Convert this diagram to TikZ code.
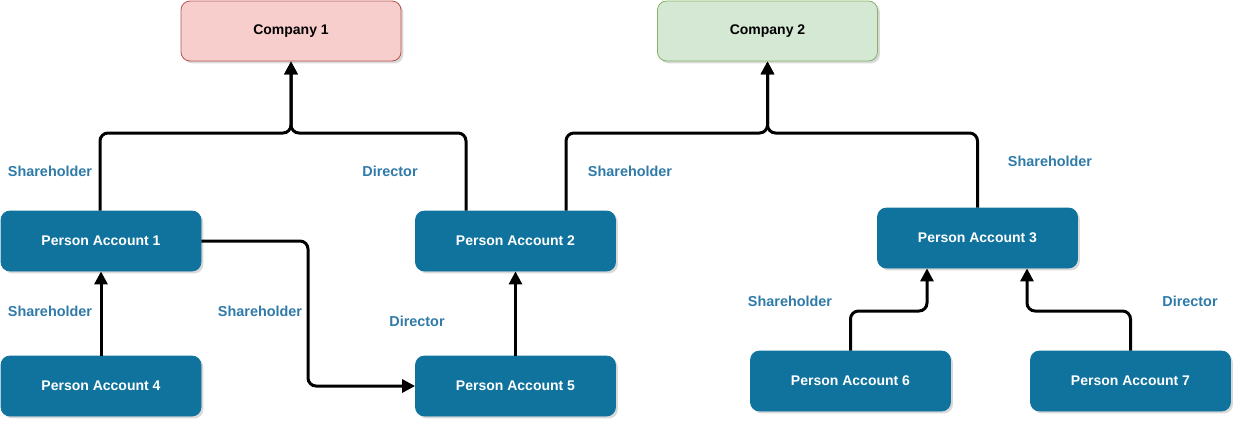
\documentclass[tikz,border=0pt]{standalone}
\usepackage{fontspec}
\setmainfont{Liberation Sans}
\usetikzlibrary{arrows.meta,shadows}

\definecolor{acctblue}{HTML}{10739E}
\definecolor{lblblue}{HTML}{2F7AA8}
\definecolor{redfill}{HTML}{F8CECC}
\definecolor{redline}{HTML}{B85450}
\definecolor{greenfill}{HTML}{D5E8D4}
\definecolor{greenline}{HTML}{82B366}

\tikzset{
  box/.style={rounded corners=4.5pt, minimum width=100pt, minimum height=30pt,
    font=\fontsize{7}{8}\selectfont\bfseries,
    drop shadow={opacity=0.3, shadow xshift=1.2pt, shadow yshift=-1.2pt}},
  comp/.style={box, minimum width=110pt},
  acct/.style={box, fill=acctblue, draw=acctblue, text=white},
  link/.style={line width=1.5pt, rounded corners=4pt, -{Triangle[length=6.5pt,width=6.5pt]}},
  role/.style={font=\fontsize{7.2}{8}\selectfont\bfseries, text=lblblue}
}

\begin{document}
\begin{tikzpicture}[x=0.5pt, y=-0.5pt]
\useasboundingbox (0,0) rectangle (1244,430);
% companies
\node[comp, fill=redfill, draw=redline] (comp1) at (291,31) {Company 1};
\node[comp, fill=greenfill, draw=greenline] (comp2) at (767.5,31) {Company 2};
% person accounts
\node[acct] (pa1) at (101,241) {Person Account 1};
\node[acct] (pa2) at (515.5,241) {Person Account 2};
\node[acct] (pa3) at (977.5,238) {Person Account 3};
\node[acct] (pa4) at (101,386) {Person Account 4};
\node[acct] (pa5) at (515.5,386) {Person Account 5};
\node[acct] (pa6) at (850.5,381) {Person Account 6};
\node[acct] (pa7) at (1130.5,381) {Person Account 7};
% links to company 1
\draw[link] (pa1.north -| 100,0) |- (291,133) -- (comp1.south);
\draw[link] (pa2.north -| 466,0) |- (291,133) -- (comp1.south);
% links to company 2
\draw[link] (pa2.north -| 566,0) |- (767.5,133) -- (comp2.south);
\draw[link] (pa3.north) |- (767.5,133) -- (comp2.south);
% links between accounts
\draw[link] (pa1.east) -| (308,300) |- (pa5.west);
\draw[link] (pa4.north) -- (pa1.south);
\draw[link] (pa5.north) -- (pa2.south);
\draw[link] (pa6.north) |- (927,311) -- (pa3.south -| 927,0);
\draw[link] (pa7.north) |- (1027,311) -- (pa3.south -| 1027,0);
% roles
\node[role] (r1) at (50,171) {Shareholder};
\node[role] (r2) at (390,171) {Director};
\node[role] (r3) at (630,171) {Shareholder};
\node[role] (r4) at (1050,161) {Shareholder};
\node[role] (r5) at (50,311) {Shareholder};
\node[role] (r6) at (260,311) {Shareholder};
\node[role] (r7) at (417,321) {Director};
\node[role] (r8) at (790,301) {Shareholder};
\node[role] (r9) at (1190,301) {Director};
\end{tikzpicture}
\end{document}
